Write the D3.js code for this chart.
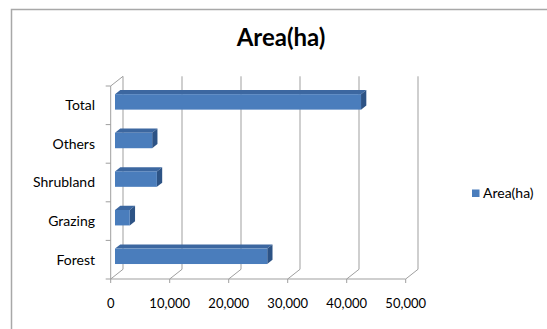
<!DOCTYPE html>
<html>
<head>
<meta charset="utf-8">
<script src="https://cdn.jsdelivr.net/npm/d3@7"></script>
<style>
  html, body { margin: 0; padding: 0; background: #fff; }
  svg { display: block; }
  text { font-family: Lato, "Open Sans", sans-serif; fill: #000; }
</style>
</head>
<body>
<svg id="chart" width="547" height="329"></svg>
<script>
// Land use areas in hectares, listed top to bottom
const categories = ["Total", "Others", "Shrubland", "Grazing", "Forest"];
const areaValues = [41700, 6300, 7100, 2500, 25800];
const xTicks = [0, 10000, 20000, 30000, 40000, 50000];
const seriesName = "Area(ha)";
const chartTitle = "Area(ha)";

const svg = d3.select("#chart");

// Oblique projection for the 3-D plot box: depth z in [0,1] shifts right/up
const DX = 12.3, DY = -9.7;
const x = d3.scaleLinear().domain([0, 50000]).range([110.7, 405.7]);
const y = d3.scaleBand().domain(categories).range([86, 279])
  .paddingInner(0.6).paddingOuter(0.3);
const P = (v, yy, z) => [x(v) + z * DX, yy + z * DY];

const grid = "#9f9f9f";

// Outer frame
svg.append("path")
  .attr("d", "M11.5,329 L11.5,9.5 L547,9.5")
  .attr("fill", "none").attr("stroke", "#a8a8a8").attr("stroke-width", 1.5);

// Title
svg.append("text")
  .attr("x", 281).attr("y", 45.5)
  .attr("text-anchor", "middle")
  .attr("font-size", 24).attr("font-weight", "bold")
  .text(chartTitle);

const yTop = y.range()[0], yBot = y.range()[1];

// Back-wall gridlines and floor diagonals
const g = svg.append("g").attr("stroke", grid).attr("stroke-width", 1).attr("fill", "none");
xTicks.forEach(t => {
  const [bx, byTop] = P(t, yTop, 1);
  const [, byBot] = P(t, yBot, 1);
  g.append("line").attr("x1", bx).attr("y1", byTop).attr("x2", bx).attr("y2", byBot);
  g.append("line").attr("x1", x(t)).attr("y1", yBot).attr("x2", bx).attr("y2", byBot);
  // tick below floor
  g.append("line").attr("x1", x(t)).attr("y1", yBot).attr("x2", x(t)).attr("y2", yBot + 4);
});
// Floor front edge
g.append("line").attr("x1", x(0)).attr("y1", yBot).attr("x2", x(50000)).attr("y2", yBot);
// Left wall front edge and top diagonal
g.append("line").attr("x1", x(0)).attr("y1", yTop).attr("x2", x(0)).attr("y2", yBot);
{
  const [bx, by] = P(0, yTop, 1);
  g.append("line").attr("x1", x(0)).attr("y1", yTop).attr("x2", bx).attr("y2", by);
}
// Category boundary ticks
const step = y.step();
const boundaries = d3.range(categories.length + 1).map(i => yTop + i * step);
boundaries.forEach(b => {
  g.append("line").attr("x1", x(0) - 5).attr("y1", b).attr("x2", x(0)).attr("y2", b);
});

// Category labels
svg.append("g").selectAll("text").data(categories).join("text")
  .attr("x", 95)
  .attr("y", d => y(d) + y.bandwidth() / 2)
  .attr("dy", "0.35em")
  .attr("text-anchor", "end")
  .attr("font-size", 14)
  .text(d => d);

// Value tick labels
svg.append("g").selectAll("text").data(xTicks).join("text")
  .attr("x", d => x(d))
  .attr("y", 303)
  .attr("dy", "0.35em")
  .attr("text-anchor", "middle")
  .attr("font-size", 13)
  .text(d => d3.format(",")(d));

// 3-D bars
const zf = 0.35, zb = 0.78;
const poly = pts => "M" + pts.map(p => p.join(",")).join("L") + "Z";
const bars = svg.append("g");
categories.forEach((c, i) => {
  const v = areaValues[i];
  const y0 = y(c), y1 = y0 + y.bandwidth();
  const bar = bars.append("g");
  bar.append("path")
    .attr("d", poly([P(0, y0, zf), P(v, y0, zf), P(v, y0, zb), P(0, y0, zb)]))
    .attr("fill", "#3c67a0");
  bar.append("path")
    .attr("d", poly([P(v, y0, zf), P(v, y0, zb), P(v, y1, zb), P(v, y1, zf)]))
    .attr("fill", "#2d5385");
  const [fx0, fy0] = P(0, y0, zf), [fx1, fy1] = P(v, y1, zf);
  bar.append("rect")
    .attr("x", fx0).attr("y", fy0)
    .attr("width", fx1 - fx0).attr("height", fy1 - fy0)
    .attr("fill", "#4a7dbc");
});

// Legend
const lg = svg.append("g");
lg.append("rect").attr("x", 472).attr("y", 189.5).attr("width", 7.5).attr("height", 7.5).attr("fill", "#4a7dbc");
lg.append("text").attr("x", 483).attr("y", 193.5).attr("dy", "0.35em")
  .attr("font-size", 14).text(seriesName);
</script>
</body>
</html>
